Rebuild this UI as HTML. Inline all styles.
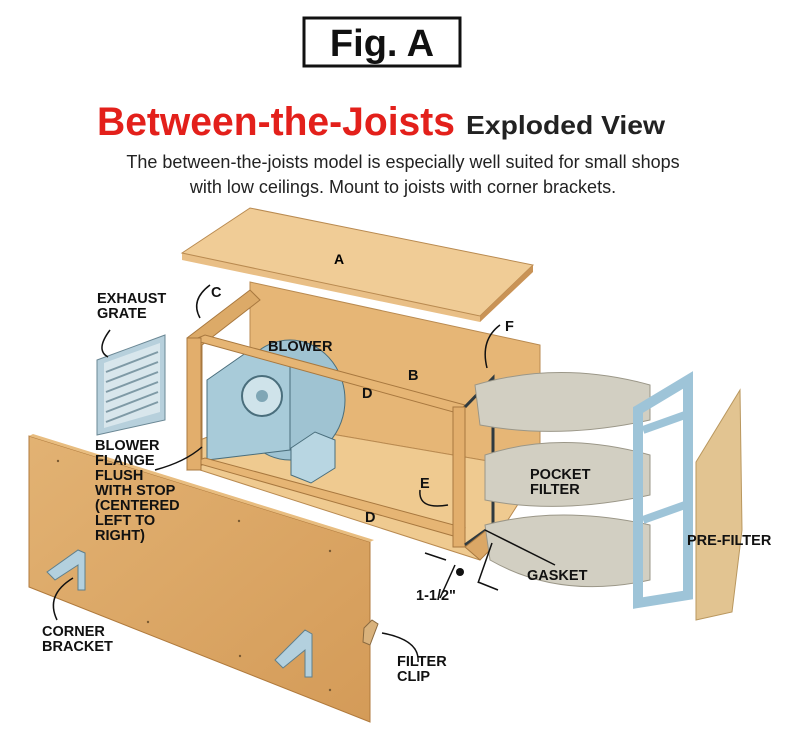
<!DOCTYPE html>
<html><head><meta charset="utf-8"><style>
body{margin:0;background:#fff;width:800px;height:743px;overflow:hidden;font-family:"Liberation Sans",sans-serif}
</style></head><body>
<svg width="800" height="743" viewBox="0 0 800 743" xmlns="http://www.w3.org/2000/svg" font-family="Liberation Sans, sans-serif">
<defs>
<linearGradient id="wd" x1="0" y1="0" x2="1" y2="1"><stop offset="0" stop-color="#e2b273"/><stop offset="1" stop-color="#d49b58"/></linearGradient>
</defs>
<rect x="304" y="18" width="156" height="48" fill="#fff" stroke="#111" stroke-width="3"/>
<text x="382" y="56" text-anchor="middle" font-size="38" font-weight="bold" fill="#111">Fig. A</text>
<text x="97" y="135" font-size="40" font-weight="bold" fill="#e3201b" textLength="358" lengthAdjust="spacingAndGlyphs">Between-the-Joists</text>
<text x="466" y="134" font-size="26" font-weight="bold" fill="#222" textLength="199" lengthAdjust="spacingAndGlyphs">Exploded View</text>
<text x="403" y="168" text-anchor="middle" font-size="18" fill="#222">The between-the-joists model is especially well suited for small shops</text>
<text x="403" y="193" text-anchor="middle" font-size="18" fill="#222">with low ceilings. Mount to joists with corner brackets.</text>

<!-- top panel A -->
<polygon points="182,253 250,208 533,265 480,322 182,260" fill="#e9bf86"/>
<polygon points="182,253 250,208 533,265 480,316" fill="#f0cc96" stroke="#b98a50"/>
<polygon points="480,316 533,265 533,272 480,322" fill="#c99356"/>
<text x="334" y="264" font-size="14" font-weight="bold">A</text>

<!-- back panel B -->
<polygon points="250,282 540,345 540,470 250,420" fill="#e6b676" stroke="#b98a50"/>
<!-- box floor -->
<polygon points="200,440 250,420 540,470 495,540 480,560 200,470" fill="#efca90" stroke="#b98a50"/>
<!-- left frame side -->
<polygon points="187,338 250,290 260,300 202,345 202,465 187,470" fill="#dcaa68" stroke="#a8783f"/>
<!-- blower -->
<ellipse cx="290" cy="400" rx="55" ry="60" fill="#9fc3d2" stroke="#4a6e7c"/>
<polygon points="207,380 250,350 290,360 290,450 207,460" fill="#a8cbd9" stroke="#4a6e7c"/>
<circle cx="262" cy="396" r="20" fill="#cfe3ea" stroke="#4a6e7c" stroke-width="2"/>
<circle cx="262" cy="396" r="6" fill="#7fa6b5"/>
<!-- junction box -->
<polygon points="291,448 315,432 335,440 335,468 311,483 291,475" fill="#b8d6e2" stroke="#4a6e7c"/>
<!-- front rails -->
<polygon points="193,340 205,335 465,405 457,413" fill="#e6b574" stroke="#a8783f"/>
<polygon points="193,462 205,458 465,528 457,537" fill="#e6b574" stroke="#a8783f"/>
<rect x="187" y="338" width="14" height="132" fill="#e2ae6c" stroke="#a8783f"/>
<rect x="453" y="407" width="12" height="140" fill="#e2ae6c" stroke="#a8783f"/>
<polyline points="465,407 493,378 493,525 465,545" fill="none" stroke="#2f3a40" stroke-width="3"/>
<polygon points="465,547 493,525 500,540 480,560" fill="#dba766" stroke="#a8783f"/>

<!-- pocket filters -->
<path d="M475,385 Q560,360 650,385 L650,420 Q560,440 480,425 Z" fill="#d2cfc2" stroke="#9b9788"/>
<path d="M485,455 Q560,430 650,455 L650,495 Q560,515 485,500 Z" fill="#d2cfc2" stroke="#9b9788"/>
<path d="M485,525 Q560,505 650,525 L650,580 Q560,600 490,560 Z" fill="#d2cfc2" stroke="#9b9788"/>
<!-- filter frame -->
<polygon points="638,410 688,380 688,595 638,603" fill="none" stroke="#9ec4d8" stroke-width="10"/>
<line x1="643" y1="430" x2="685" y2="415" stroke="#9ec4d8" stroke-width="8"/>
<line x1="643" y1="520" x2="685" y2="505" stroke="#9ec4d8" stroke-width="8"/>
<!-- pre-filter -->
<polygon points="696,462 740,390 742,530 732,612 696,620" fill="#e2c491" stroke="#b9975e"/>

<!-- exhaust grate -->
<polygon points="97,360 165,335 165,420 97,435" fill="#b7d0dc" stroke="#6a8794"/>
<polygon points="104,363 160,343 160,412 104,428" fill="#d8e6ec"/>
<g stroke="#7f9aa6" stroke-width="2">
<line x1="106" y1="372" x2="158" y2="352"/><line x1="106" y1="382" x2="158" y2="362"/><line x1="106" y1="392" x2="158" y2="372"/><line x1="106" y1="402" x2="158" y2="382"/><line x1="106" y1="412" x2="158" y2="392"/><line x1="106" y1="422" x2="158" y2="402"/></g>

<!-- front panel -->
<polygon points="29,436 370,542 370,722 29,587" fill="url(#wd)" stroke="#b07a3c"/>
<polygon points="29,436 370,542 374,540 33,434" fill="#e8bd80"/>
<g fill="#7a5a32"><circle cx="58" cy="461" r="1.2"/><circle cx="239" cy="521" r="1.2"/><circle cx="330" cy="551" r="1.2"/><circle cx="148" cy="622" r="1.2"/><circle cx="240" cy="656" r="1.2"/><circle cx="330" cy="690" r="1.2"/></g>
<path d="M47,572 L78,550 L85,553 L85,590 L78,590 L78,565 L55,580 Z" fill="#b3d0de" stroke="#5f7f8b"/>
<path d="M275,660 L305,630 L312,634 L312,677 L305,677 L305,650 L283,668 Z" fill="#b3d0de" stroke="#5f7f8b"/>
<polygon points="364,628 372,620 378,624 370,645 363,642" fill="#d9b27c" stroke="#8a6a40"/>

<!-- leader lines -->
<g fill="none" stroke="#111" stroke-width="1.5">
<path d="M110,330 Q95,350 108,357"/>
<path d="M210,285 Q190,300 200,318"/>
<path d="M500,325 Q480,340 487,368"/>
<path d="M155,470 Q185,462 202,447"/>
<path d="M420,490 Q418,510 448,505"/>
<path d="M555,565 L485,530"/>
<path d="M57,620 Q45,595 73,578"/>
<path d="M418,662 Q420,640 382,633"/>
<path d="M425,553 L446,560 M478,582 L498,590 M455,565 L440,598 M492,543 L478,583"/>
</g>
<circle cx="460" cy="572" r="4" fill="#111"/>

<g font-size="14.5" font-weight="bold" fill="#111">
<text x="97" y="303">EXHAUST</text><text x="97" y="318">GRATE</text>
<text x="211" y="297">C</text>
<text x="268" y="351">BLOWER</text>
<text x="408" y="380">B</text>
<text x="362" y="398">D</text>
<text x="505" y="331">F</text>
<text x="95" y="450">BLOWER</text><text x="95" y="465">FLANGE</text><text x="95" y="480">FLUSH</text><text x="95" y="495">WITH STOP</text><text x="95" y="510">(CENTERED</text><text x="95" y="525">LEFT TO</text><text x="95" y="540">RIGHT)</text>
<text x="420" y="488">E</text>
<text x="365" y="522">D</text>
<text x="530" y="479">POCKET</text><text x="530" y="494">FILTER</text>
<text x="687" y="545">PRE-FILTER</text>
<text x="527" y="580">GASKET</text>
<text x="416" y="600">1-1/2"</text>
<text x="42" y="636">CORNER</text><text x="42" y="651">BRACKET</text>
<text x="397" y="666">FILTER</text><text x="397" y="681">CLIP</text>
</g>
</svg>
</body></html>
